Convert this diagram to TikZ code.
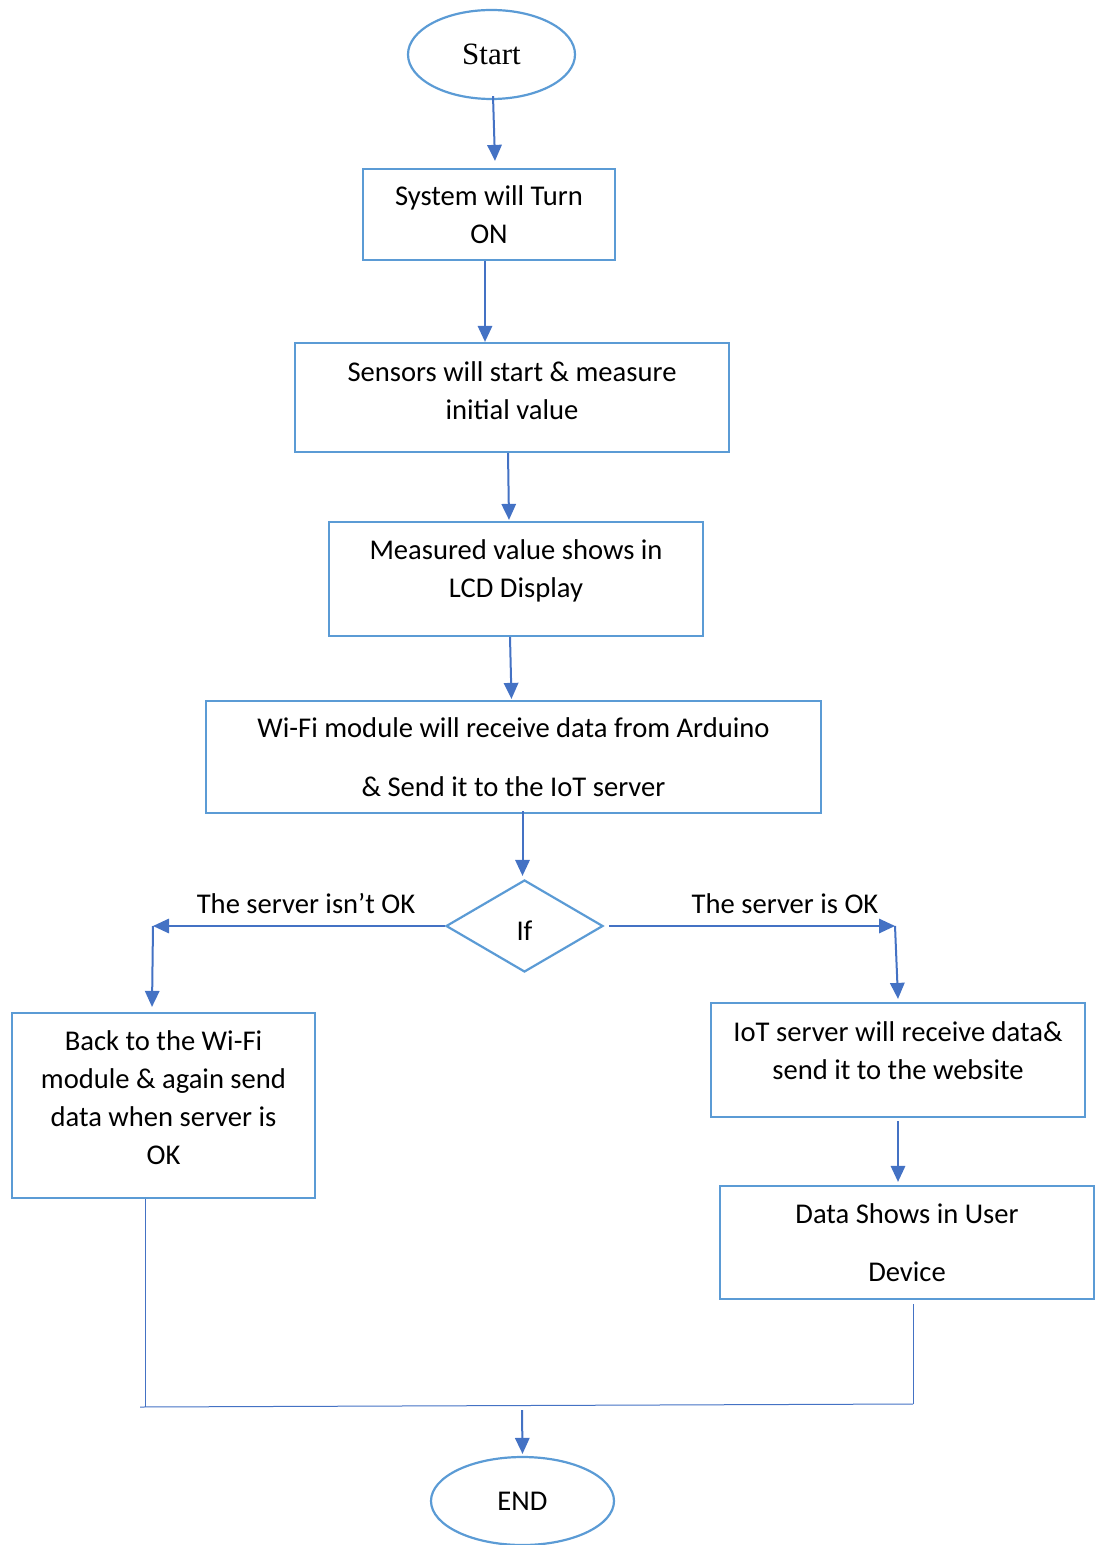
\documentclass[tikz,border=0pt]{standalone}
\usepackage{fontspec}
\setmainfont{Carlito}
\newfontfamily\startfont{Liberation Serif}
\usetikzlibrary{shapes.geometric,arrows.meta}
\definecolor{boxblue}{RGB}{91,155,213}
\definecolor{arrblue}{RGB}{68,114,196}
\begin{document}
\begin{tikzpicture}[x=0.5pt,y=-0.5pt,
  box/.style={draw=boxblue, line width=1.1pt, rectangle, align=center, inner sep=0pt,
    font=\fontsize{14.3}{19}\selectfont},
  oval/.style={draw=boxblue, line width=1.1pt, ellipse, inner sep=0pt},
  arr/.style={draw=arrblue, line width=1pt, -{Triangle[length=8pt,width=7.2pt]}},
  thinline/.style={draw=arrblue, line width=0.5pt},
  lbl/.style={font=\fontsize{14.3}{19}\selectfont, inner sep=0pt}]
\useasboundingbox (0,0) rectangle (1096,1545);

\node[oval, minimum width=83.5pt, minimum height=44.5pt, font=\startfont\fontsize{15.5}{18}\selectfont] (start) at (491.5,54.5) {Start};
\node[box, minimum width=126pt, minimum height=45.5pt] (b1) at (489,214.5) {System will Turn\\ON};
\node[box, minimum width=217pt, minimum height=54.5pt, text depth=7pt] (b2) at (512,397.5) {Sensors will start \& measure\\initial value};
\node[box, minimum width=187pt, minimum height=57pt, text depth=10pt] (b3) at (516,579) {Measured value shows in\\LCD Display};
\node[box, minimum width=307.5pt, minimum height=56pt] (b4) at (513.5,757) {Wi-Fi module will receive data from Arduino\\[10.5pt]\& Send it to the IoT server};
\node[draw=boxblue, line width=1.1pt, diamond, minimum width=78.5pt, minimum height=46pt, inner sep=0pt, text height=14pt, text depth=0pt, font=\fontsize{14.3}{19}\selectfont] (dia) at (524.5,926) {If};
\node[box, minimum width=151.5pt, minimum height=92.5pt, text depth=8pt] (lb) at (163.5,1105.5) {Back to the Wi-Fi\\module \& again send\\data when server is\\OK};
\node[box, minimum width=187pt, minimum height=57pt, text depth=9pt] (rb1) at (898,1060) {IoT server will receive data\&\\send it to the website};
\node[box, minimum width=187pt, minimum height=56.5pt] (rb2) at (907,1242.5) {Data Shows in User\\[10pt]Device};
\node[oval, minimum width=91.5pt, minimum height=44pt, font=\fontsize{14.3}{18}\selectfont] (end) at (522.5,1501) {END};

\node[lbl] (lno) at (306,904) {The server isn’t OK};
\node[lbl] (lyes) at (785,904) {The server is OK};

\coordinate (L) at (153,926);
\coordinate (R) at (895,926);
\coordinate (J1) at (145,1407);
\coordinate (J0) at (140,1407);
\coordinate (J2) at (913,1404);
\coordinate (JM) at (522,1406);

\draw[arr] ([xshift=0.75pt,yshift=2pt]start.south) -- ([xshift=3pt,yshift=3.5pt]b1.north);
\draw[arr] ([xshift=-2pt]b1.south) -- ([xshift=-13.5pt]b2.north);
\draw[arr] ([xshift=-2pt]b2.south) -- ([xshift=-3.5pt,yshift=0.5pt]b3.north);
\draw[arr] ([xshift=-3pt]b3.south) -- ([xshift=-1pt,yshift=0.5pt]b4.north);
\draw[arr] ([xshift=4.5pt,yshift=1.5pt]b4.south) -- ([xshift=-1pt,yshift=1.5pt]dia.north);
\draw[arr] (dia.west) -- (L);
\draw[arr] (L) -- ([xshift=-5.75pt,yshift=2.5pt]lb.north);
\draw[arr] ([xshift=2.5pt]dia.east) -- (R);
\draw[arr] (R) -- ([yshift=1.5pt]rb1.north);
\draw[arr] ([yshift=-1.5pt]rb1.south) -- ([xshift=-4.5pt,yshift=1.5pt]rb2.north);
\draw[thinline] ([xshift=-9.25pt]lb.south) -- (J1);
\draw[thinline] ([xshift=3pt,yshift=-2pt]rb2.south) -- (J2);
\draw[thinline] (J0) -- (J2);
\draw[arr] ([yshift=-2pt]JM) -- ([yshift=1pt]end.north);
\end{tikzpicture}
\end{document}
